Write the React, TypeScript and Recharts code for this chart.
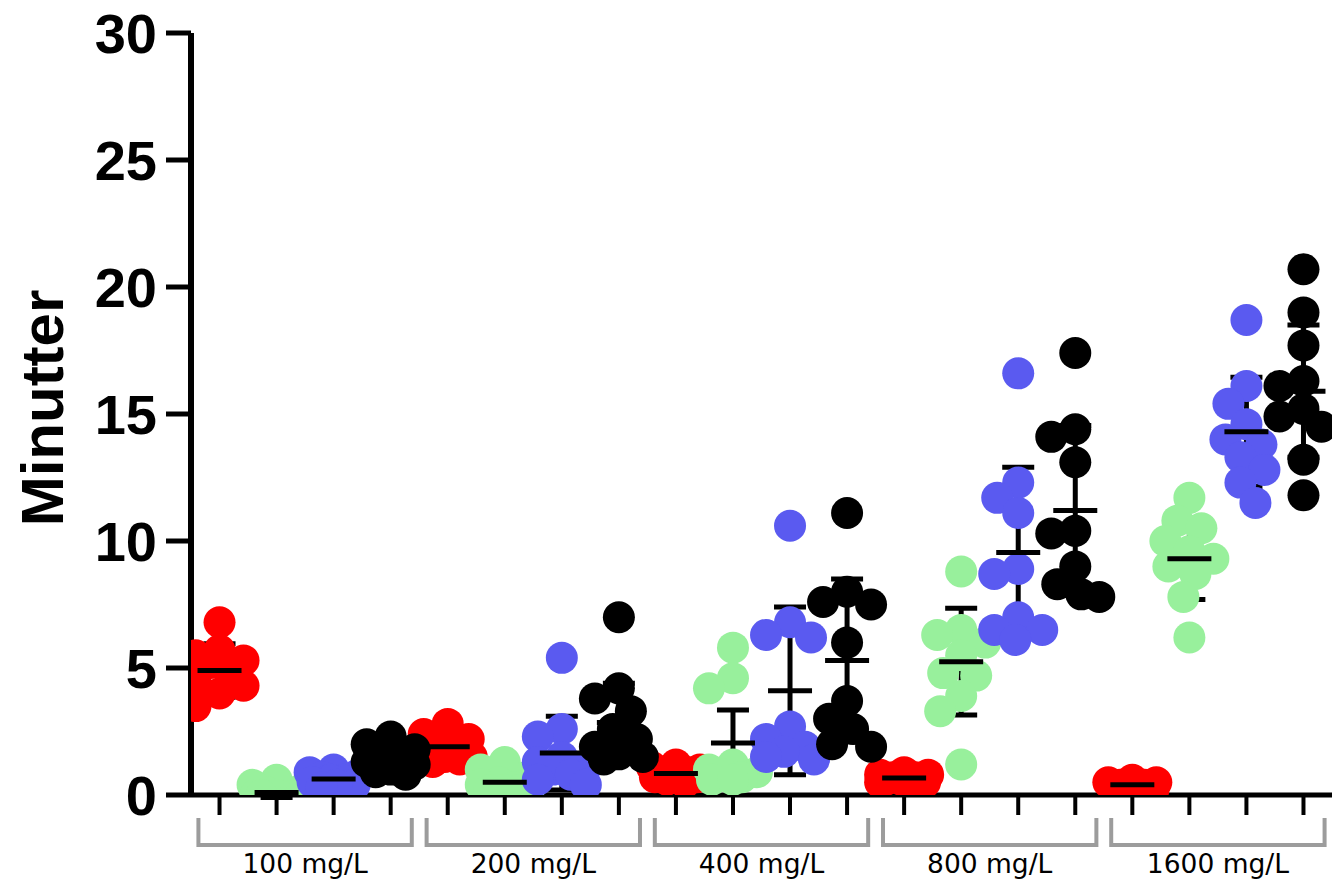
import { ComposedChart, Scatter, XAxis, YAxis, ErrorBar } from 'recharts'

// concentration groups, one bracket each under the x axis
const GROUPS = ['100 mg/L', '200 mg/L', '400 mg/L', '800 mg/L', '1600 mg/L']
const COLORS = ['#ff0000', '#98f09c', '#5a5af0', '#000000']
const Y_TICKS = [0, 5, 10, 15, 20, 25, 30]

// individual observations (minutes), one list per concentration
const RED = [
    [6.8, 5.7, 5.5, 5.3, 5.2, 4.9, 4.5, 4.3, 4.0, 3.5],
    [2.8, 2.4, 2.2, 2.0, 1.8, 1.6, 1.5, 1.5, 1.4, 1.3],
    [1.2, 1.1, 1.0, 0.9, 0.9, 0.8, 0.7, 0.7, 0.6, 0.5],
    [0.9, 0.8, 0.8, 0.7, 0.7, 0.6, 0.6, 0.6, 0.5, 0.5],
    [0.6, 0.5, 0.5, 0.4, 0.4, 0.4, 0.4, 0.3, 0.3, 0.2],
]
const GREEN = [
    [0.6, 0.4, 0.2, 0.1, 0, 0, 0, 0, 0, 0],
    [1.3, 1.0, 0.7, 0.5, 0.4, 0.3, 0.2, 0.2, 0.2, 0.2],
    [5.8, 4.6, 4.2, 1.2, 1.0, 0.9, 0.8, 0.7, 0.6, 0.6],
    [8.8, 6.5, 6.3, 6.0, 5.5, 4.8, 4.7, 3.9, 3.3, 1.2],
    [11.7, 10.8, 10.5, 10.0, 9.6, 9.3, 9.0, 8.7, 7.8, 6.2],
]
const BLUE = [
    [1.0, 0.9, 0.8, 0.7, 0.6, 0.6, 0.5, 0.4, 0.4, 0.3],
    [5.4, 2.6, 2.3, 1.5, 1.3, 1.1, 1.0, 0.8, 0.6, 0.4],
    [10.6, 6.8, 6.3, 6.2, 2.7, 2.2, 1.9, 1.7, 1.5, 1.4],
    [16.6, 12.3, 11.7, 11.1, 8.9, 8.7, 7.0, 6.5, 6.5, 6.1],
    [18.7, 16.1, 15.4, 14.6, 14.0, 13.8, 13.3, 12.8, 12.3, 11.5],
]
const BLACK = [
    [2.3, 2.0, 1.8, 1.6, 1.5, 1.3, 1.2, 1.0, 0.9, 0.8],
    [7.0, 4.2, 3.8, 3.3, 2.6, 2.2, 1.9, 1.6, 1.5, 1.4],
    [11.1, 8.0, 7.6, 7.5, 6.0, 3.7, 3.0, 2.6, 2.0, 1.9],
    [17.4, 14.4, 14.1, 13.1, 10.4, 10.3, 9.0, 8.3, 7.9, 7.8],
    [20.7, 19.0, 17.7, 16.3, 16.1, 15.2, 14.9, 14.5, 13.2, 11.8],
]

// mean and SD as drawn
const RED_MEAN = [4.9, 1.9, 0.85, 0.67, 0.4]
const RED_SD = [1.05, 0.5, 0.2, 0.13, 0.1]
const GREEN_MEAN = [0.1, 0.5, 2.05, 5.25, 9.3]
const GREEN_SD = [0.2, 0.35, 1.3, 2.1, 1.6]
const BLUE_MEAN = [0.63, 1.65, 4.1, 9.55, 14.3]
const BLUE_SD = [0.25, 1.45, 3.3, 3.35, 2.15]
const BLACK_MEAN = [1.45, 2.85, 5.3, 11.2, 15.9]
const BLACK_SD = [0.5, 1.55, 3.2, 3.35, 2.6]

const VALUES = [RED, GREEN, BLUE, BLACK]
const MEANS = [RED_MEAN, GREEN_MEAN, BLUE_MEAN, BLACK_MEAN]
const SDS = [RED_SD, GREEN_SD, BLUE_SD, BLACK_SD]

const W = 1332
const H = 881
const AXIS_W = 191
const TOP = 33
const BOTTOM = 86
const N_CAT = GROUPS.length * COLORS.length
const PX_X = (W - AXIS_W) / N_CAT
const PX_Y = (H - TOP - BOTTOM) / 30
const DOT_R = 16
const CAT_TICKS = Array.from({ length: N_CAT }, (_, i) => i)
const GROUP_TICKS = GROUPS.map((_, g) => g * 4 + 1.5)

// simple beeswarm: spread points sideways so they don't pile up
function swarm(vals: number[]) {
    const order = vals.map((_, i) => i).sort((a, b) => vals[b] - vals[a])
    const cands = [0]
    for (let k = 3; k <= 24; k += 3) cands.push(-k, k)
    const placed: { ox: number; py: number }[] = []
    const offs = new Array(vals.length).fill(0)
    for (const i of order) {
        const py = vals[i] * PX_Y
        let best = 0
        let bestD = -1
        for (const c of cands) {
            let dmin = Infinity
            for (const p of placed) dmin = Math.min(dmin, Math.hypot(c - p.ox, py - p.py))
            if (dmin >= 25) { best = c; break }
            if (dmin > bestD) { bestD = dmin; best = c }
        }
        offs[i] = best
        placed.push({ ox: best, py })
    }
    return offs
}

const points = VALUES.map((series, s) =>
    series.flatMap((vals, g) => {
        const offs = swarm(vals)
        return vals.map((v, i) => ({ x: g * 4 + s + offs[i] / PX_X, y: v }))
    })
)

const summary = MEANS.flatMap((m, s) => m.map((v, g) => ({ x: g * 4 + s, y: v, err: SDS[s][g] })))

const GroupTick = (props: any) => {
    const { x, y, payload } = props
    const g = Math.round((payload.value - 1.5) / 4)
    const half = PX_X * 1.87
    return (
        <g>
            <path
                d={`M${x - half},${y} V${y + 27} H${x + half} V${y}`}
                stroke="#9c9c9c"
                strokeWidth={4}
                fill="none"
            />
            <text x={x} y={y + 55} textAnchor="middle" fontFamily="DejaVu Sans" fontSize={26.5} fill="#000">
                {GROUPS[g]}
            </text>
        </g>
    )
}

const YLabel = (props: any) => {
    const { viewBox } = props
    const cx = viewBox.x + 42
    const cy = viewBox.y + viewBox.height / 2 - 6
    return (
        <text
            x={cx}
            y={cy}
            transform={`rotate(-90 ${cx} ${cy})`}
            textAnchor="middle"
            dominantBaseline="central"
            fontFamily="Liberation Sans, Arial, sans-serif"
            fontWeight={700}
            fontSize={60}
            fill="#000"
        >
            Minutter
        </text>
    )
}

export default function App() {
    return (
        <div style={{ position: 'absolute', left: 0, top: 0, width: W, height: H, overflow: 'hidden', background: '#fff' }}>
            <ComposedChart width={W} height={H} margin={{ top: TOP, right: 0, bottom: 0, left: 0 }}>
                <XAxis
                    type="number"
                    dataKey="x"
                    domain={[-0.5, N_CAT - 0.5]}
                    ticks={CAT_TICKS}
                    interval={0}
                    allowDataOverflow
                    tickFormatter={() => ''}
                    tickSize={20}
                    height={23}
                    axisLine={{ stroke: '#000', strokeWidth: 5 }}
                    tickLine={{ stroke: '#000', strokeWidth: 4 }}
                />
                <XAxis
                    xAxisId="grp"
                    type="number"
                    dataKey="x"
                    domain={[-0.5, N_CAT - 0.5]}
                    ticks={GROUP_TICKS}
                    interval={0}
                    allowDataOverflow
                    axisLine={false}
                    tickLine={false}
                    tickSize={0}
                    tickMargin={0}
                    height={63}
                    tick={<GroupTick />}
                />
                <YAxis
                    type="number"
                    dataKey="y"
                    domain={[0, 30]}
                    ticks={Y_TICKS}
                    interval={0}
                    allowDataOverflow
                    width={AXIS_W}
                    tickSize={25}
                    tickMargin={9}
                    axisLine={{ stroke: '#000', strokeWidth: 6 }}
                    tickLine={{ stroke: '#000', strokeWidth: 5 }}
                    tick={{ fontSize: 56, fontWeight: 700, fill: '#000', fontFamily: 'Liberation Sans, Arial, sans-serif' }}
                    label={{ value: 'Minutter', content: <YLabel /> }}
                />
                <Scatter data={summary} isAnimationActive={false} shape={() => <g />}>
                    <ErrorBar dataKey="err" direction="y" width={16} stroke="#000" strokeWidth={5} />
                </Scatter>
                {points.map((pts, s) => (
                    <Scatter
                        key={s}
                        data={pts}
                        isAnimationActive={false}
                        shape={(p: any) => <circle cx={p.cx} cy={p.cy} r={DOT_R} fill={COLORS[s]} />}
                    />
                ))}
                <Scatter
                    data={summary}
                    isAnimationActive={false}
                    shape={(p: any) => (
                        <line x1={p.cx - 22} x2={p.cx + 22} y1={p.cy} y2={p.cy} stroke="#000" strokeWidth={5} />
                    )}
                />
            </ComposedChart>
        </div>
    )
}
